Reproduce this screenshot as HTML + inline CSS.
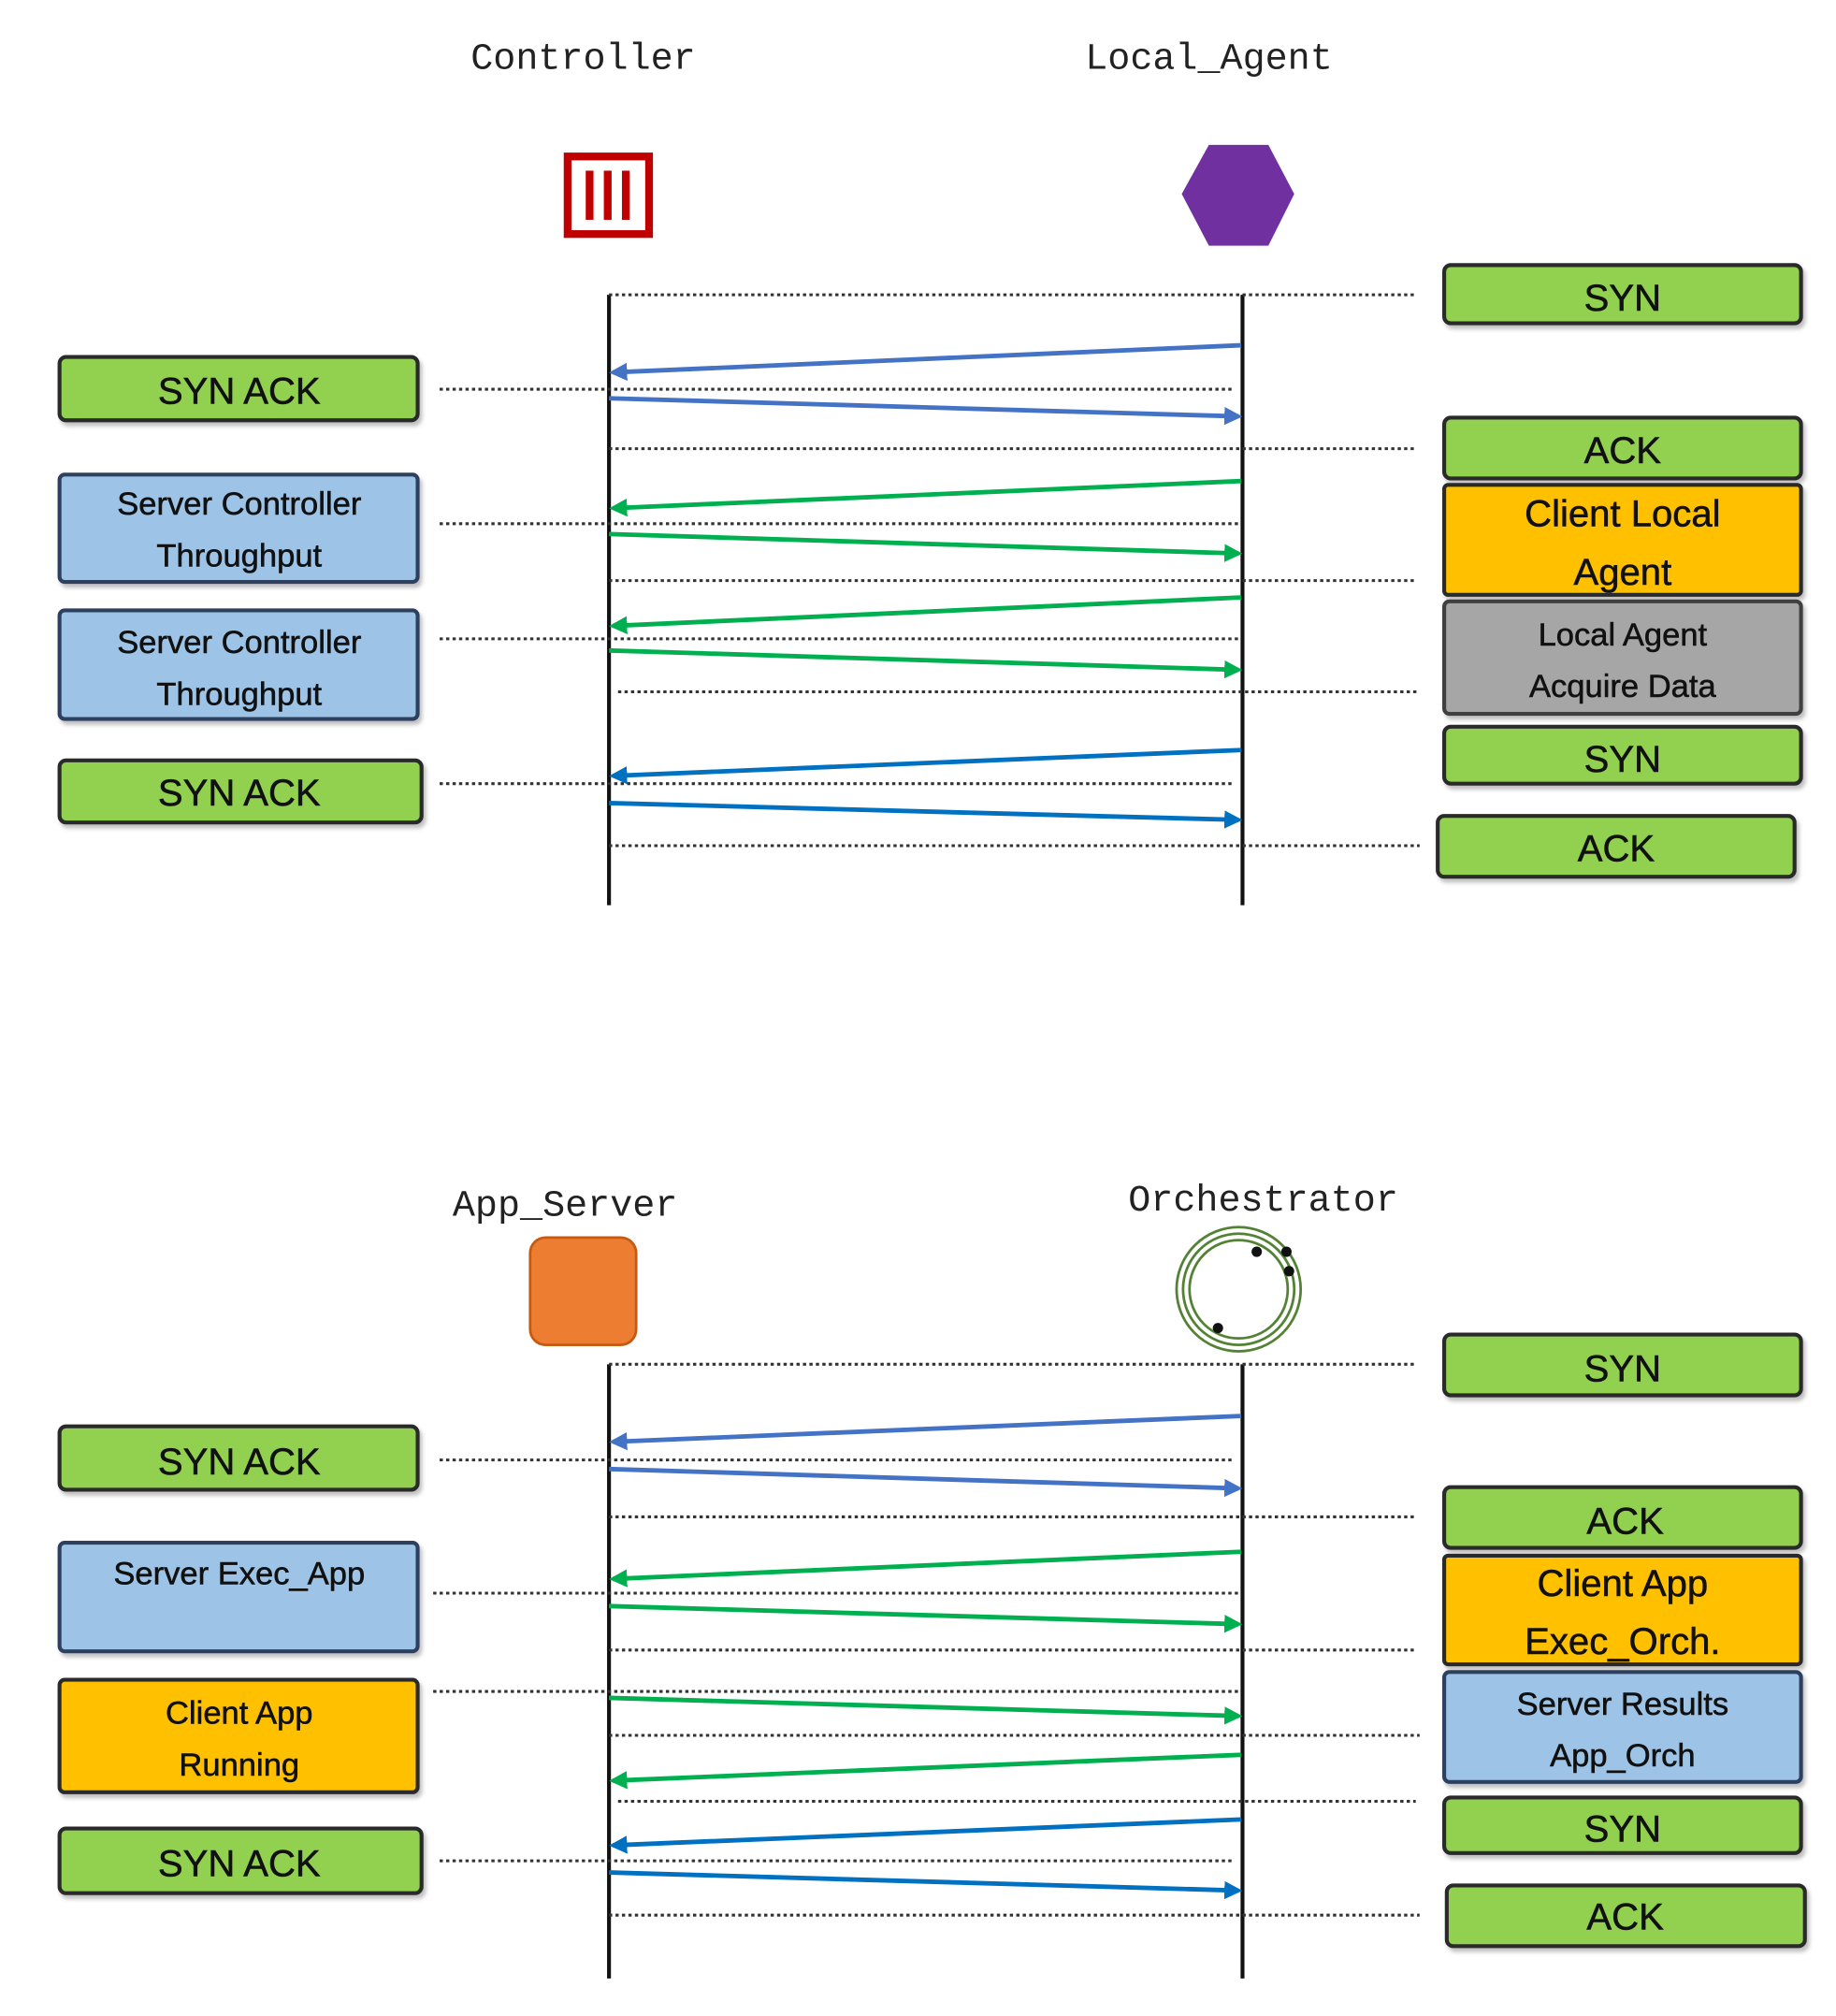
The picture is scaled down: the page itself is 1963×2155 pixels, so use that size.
<!DOCTYPE html>
<html><head><meta charset="utf-8"><style>
html,body{margin:0;padding:0;background:#fff}
svg{display:block}
.t{font-family:"Liberation Sans",sans-serif;fill:#111;text-anchor:middle;stroke:#111;stroke-width:0.4}
.m{font-family:"Liberation Mono",monospace;fill:#222;text-anchor:middle;font-size:29px}
.d{stroke:#333;stroke-width:2.2;stroke-dasharray:2.5 2.5;fill:none}
.ll{stroke:#111;stroke-width:3}
</style></head><body>
<svg width="1963" height="2155" viewBox="0 0 1420 1559" xmlns="http://www.w3.org/2000/svg">
<defs>
<marker id="ab" markerWidth="14" markerHeight="14" refX="11" refY="7" orient="auto" markerUnits="userSpaceOnUse"><path d="M0,0 L14,7 L0,14 Z" fill="#4472c4"/></marker>
<marker id="ab2" markerWidth="14" markerHeight="14" refX="11" refY="7" orient="auto" markerUnits="userSpaceOnUse"><path d="M0,0 L14,7 L0,14 Z" fill="#0070c0"/></marker>
<marker id="ag" markerWidth="14" markerHeight="14" refX="11" refY="7" orient="auto" markerUnits="userSpaceOnUse"><path d="M0,0 L14,7 L0,14 Z" fill="#00b050"/></marker>
<filter id="sh"><feDropShadow dx="2" dy="3" stdDeviation="1.5" flood-color="#000" flood-opacity="0.25"/></filter>
</defs>

<text class="m" x="451" y="53">Controller</text>
<text class="m" x="935" y="53">Local_Agent</text>
<rect x="439" y="121" width="63" height="60" fill="#fff" stroke="#c00000" stroke-width="6"/>
<rect x="453" y="132" width="6" height="38" fill="#c00000"/>
<rect x="467" y="132" width="6" height="38" fill="#c00000"/>
<rect x="481" y="132" width="6" height="38" fill="#c00000"/>
<polygon points="935,112 981,112 1001,150 981,190 935,190 914,150" fill="#7030a0"/>

<line class="ll" x1="471" y1="228" x2="471" y2="700"/>
<line class="ll" x1="961" y1="228" x2="961" y2="700"/>

<g class="d">
<line x1="471" y1="228" x2="1095" y2="228"/>
<line x1="340" y1="301" x2="955" y2="301"/>
<line x1="471" y1="347" x2="1095" y2="347"/>
<line x1="340" y1="405" x2="960" y2="405"/>
<line x1="471" y1="449" x2="1095" y2="449"/>
<line x1="340" y1="494" x2="960" y2="494"/>
<line x1="478" y1="535" x2="1098" y2="535"/>
<line x1="340" y1="606" x2="955" y2="606"/>
<line x1="471" y1="654" x2="1098" y2="654"/>
</g>
<g stroke-width="3.5" fill="none">
<line x1="960" y1="267" x2="474" y2="288" stroke="#4472c4" marker-end="url(#ab)"/>
<line x1="471" y1="308" x2="958" y2="322" stroke="#4472c4" marker-end="url(#ab)"/>
<line x1="960" y1="372" x2="474" y2="393" stroke="#00b050" marker-end="url(#ag)"/>
<line x1="471" y1="413" x2="958" y2="428" stroke="#00b050" marker-end="url(#ag)"/>
<line x1="960" y1="462" x2="474" y2="484" stroke="#00b050" marker-end="url(#ag)"/>
<line x1="471" y1="503" x2="958" y2="518" stroke="#00b050" marker-end="url(#ag)"/>
<line x1="960" y1="580" x2="474" y2="600" stroke="#0070c0" marker-end="url(#ab2)"/>
<line x1="471" y1="621" x2="958" y2="634" stroke="#0070c0" marker-end="url(#ab2)"/>
</g>

<g stroke="#2a2a2a" stroke-width="3" filter="url(#sh)">
<rect x="1117" y="205" width="276" height="45" rx="5" fill="#92d050"/>
<rect x="46" y="276" width="277" height="49" rx="5" fill="#92d050"/>
<rect x="1117" y="323" width="276" height="47" rx="5" fill="#92d050"/>
<rect x="46" y="367" width="277" height="83" rx="4" fill="#9dc3e6" stroke="#2f4060"/>
<rect x="1117" y="375" width="276" height="85" rx="3" fill="#ffc000"/>
<rect x="1117" y="465" width="276" height="87" rx="4" fill="#a6a6a6" stroke="#404040"/>
<rect x="46" y="472" width="277" height="84" rx="4" fill="#9dc3e6" stroke="#2f4060"/>
<rect x="1117" y="562" width="276" height="44" rx="5" fill="#92d050"/>
<rect x="46" y="588" width="280" height="48" rx="5" fill="#92d050"/>
<rect x="1112" y="631" width="276" height="47" rx="5" fill="#92d050"/>
</g>
<g class="t">
<text x="1255" y="240" font-size="29">SYN</text>
<text x="185" y="312" font-size="29">SYN ACK</text>
<text x="1255" y="358" font-size="29">ACK</text>
<text x="185" y="398" font-size="25">Server Controller</text>
<text x="185" y="438" font-size="25">Throughput</text>
<text x="1255" y="407" font-size="29">Client Local</text>
<text x="1255" y="452" font-size="29">Agent</text>
<text x="1255" y="499" font-size="25">Local Agent</text>
<text x="1255" y="539" font-size="25">Acquire Data</text>
<text x="185" y="505" font-size="25">Server Controller</text>
<text x="185" y="545" font-size="25">Throughput</text>
<text x="1255" y="597" font-size="29">SYN</text>
<text x="185" y="623" font-size="29">SYN ACK</text>
<text x="1250" y="666" font-size="29">ACK</text>
</g>

<text class="m" x="437" y="940">App_Server</text>
<text class="m" x="977" y="936">Orchestrator</text>
<rect x="410" y="957" width="82" height="83" rx="12" fill="#ed7d31" stroke="#c55a11" stroke-width="2"/>
<g fill="none" stroke="#548235" stroke-width="2">
<circle cx="958" cy="997" r="48"/>
<circle cx="958" cy="997" r="43"/>
<circle cx="958" cy="997" r="38"/>
</g>
<g fill="#111"><circle cx="972" cy="968" r="4"/><circle cx="995" cy="968" r="4"/><circle cx="997" cy="983" r="4"/><circle cx="942" cy="1027" r="4"/></g>

<line class="ll" x1="471" y1="1055" x2="471" y2="1530"/>
<line class="ll" x1="961" y1="1055" x2="961" y2="1530"/>

<g class="d">
<line x1="471" y1="1055" x2="1095" y2="1055"/>
<line x1="340" y1="1129" x2="955" y2="1129"/>
<line x1="471" y1="1173" x2="1095" y2="1173"/>
<line x1="335" y1="1232" x2="960" y2="1232"/>
<line x1="471" y1="1276" x2="1095" y2="1276"/>
<line x1="335" y1="1308" x2="960" y2="1308"/>
<line x1="471" y1="1342" x2="1098" y2="1342"/>
<line x1="478" y1="1393" x2="1095" y2="1393"/>
<line x1="340" y1="1439" x2="955" y2="1439"/>
<line x1="471" y1="1481" x2="1098" y2="1481"/>
</g>
<g stroke-width="3.5" fill="none">
<line x1="960" y1="1095" x2="474" y2="1115" stroke="#4472c4" marker-end="url(#ab)"/>
<line x1="471" y1="1136" x2="958" y2="1151" stroke="#4472c4" marker-end="url(#ab)"/>
<line x1="960" y1="1200" x2="474" y2="1221" stroke="#00b050" marker-end="url(#ag)"/>
<line x1="471" y1="1242" x2="958" y2="1256" stroke="#00b050" marker-end="url(#ag)"/>
<line x1="471" y1="1313" x2="958" y2="1327" stroke="#00b050" marker-end="url(#ag)"/>
<line x1="960" y1="1357" x2="474" y2="1377" stroke="#00b050" marker-end="url(#ag)"/>
<line x1="960" y1="1407" x2="474" y2="1427" stroke="#0070c0" marker-end="url(#ab2)"/>
<line x1="471" y1="1448" x2="958" y2="1462" stroke="#0070c0" marker-end="url(#ab2)"/>
</g>

<g stroke="#2a2a2a" stroke-width="3" filter="url(#sh)">
<rect x="1117" y="1032" width="276" height="47" rx="5" fill="#92d050"/>
<rect x="46" y="1103" width="277" height="49" rx="5" fill="#92d050"/>
<rect x="1117" y="1150" width="276" height="47" rx="5" fill="#92d050"/>
<rect x="46" y="1193" width="277" height="84" rx="4" fill="#9dc3e6" stroke="#2f4060"/>
<rect x="1117" y="1203" width="276" height="84" rx="3" fill="#ffc000"/>
<rect x="1117" y="1293" width="276" height="85" rx="4" fill="#9dc3e6" stroke="#2f4060"/>
<rect x="46" y="1299" width="277" height="87" rx="4" fill="#ffc000"/>
<rect x="1117" y="1390" width="276" height="43" rx="5" fill="#92d050"/>
<rect x="46" y="1414" width="280" height="50" rx="5" fill="#92d050"/>
<rect x="1119" y="1458" width="277" height="47" rx="5" fill="#92d050"/>
</g>
<g class="t">
<text x="1255" y="1068" font-size="29">SYN</text>
<text x="185" y="1140" font-size="29">SYN ACK</text>
<text x="1257" y="1186" font-size="29">ACK</text>
<text x="185" y="1225" font-size="25">Server Exec_App</text>
<text x="1255" y="1234" font-size="29">Client App</text>
<text x="1255" y="1279" font-size="29">Exec_Orch.</text>
<text x="1255" y="1326" font-size="25">Server Results</text>
<text x="1255" y="1366" font-size="25">App_Orch</text>
<text x="185" y="1333" font-size="25">Client App</text>
<text x="185" y="1373" font-size="25">Running</text>
<text x="1255" y="1424" font-size="29">SYN</text>
<text x="185" y="1451" font-size="29">SYN ACK</text>
<text x="1257" y="1492" font-size="29">ACK</text>
</g>
</svg>
</body></html>
